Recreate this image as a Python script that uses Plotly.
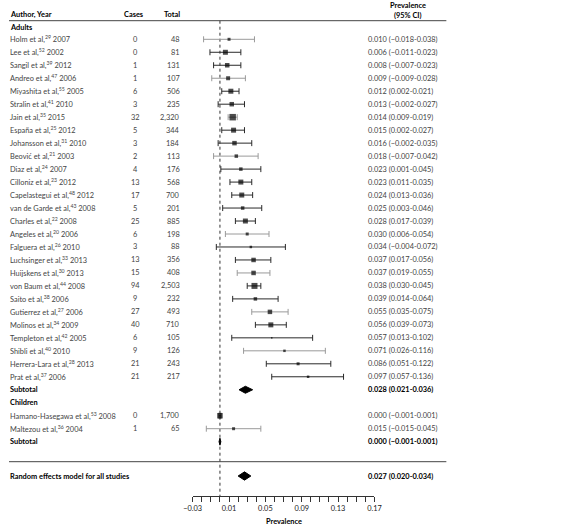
import plotly.graph_objects as go

# ---------------- data ----------------
adult_authors = [
    "Holm et al,<sup>29</sup> 2007", "Lee et al,<sup>52</sup> 2002", "Sangil et al,<sup>39</sup> 2012",
    "Andreo et al,<sup>47</sup> 2006", "Miyashita et al,<sup>55</sup> 2005", "Stralin et al,<sup>41</sup> 2010",
    "Jain et al,<sup>35</sup> 2015", "España et al,<sup>25</sup> 2012", "Johansson et al,<sup>31</sup> 2010",
    "Beović et al,<sup>21</sup> 2003", "Diaz et al,<sup>24</sup> 2007", "Cilloniz et al,<sup>23</sup> 2012",
    "Capelastegui et al,<sup>48</sup> 2012", "van de Garde et al,<sup>43</sup> 2008", "Charles et al,<sup>22</sup> 2008",
    "Angeles et al,<sup>20</sup> 2006", "Falguera et al,<sup>26</sup> 2010", "Luchsinger et al,<sup>33</sup> 2013",
    "Huijskens et al,<sup>30</sup> 2013", "von Baum et al,<sup>44</sup> 2008", "Saito et al,<sup>38</sup> 2006",
    "Gutierrez et al,<sup>27</sup> 2006", "Molinos et al,<sup>34</sup> 2009", "Templeton et al,<sup>42</sup> 2005",
    "Shibli et al,<sup>40</sup> 2010", "Herrera-Lara et al,<sup>28</sup> 2013", "Prat et al,<sup>37</sup> 2006",
]
adult_cases = [0, 0, 1, 1, 6, 3, 32, 5, 3, 2, 4, 13, 17, 5, 25, 6, 3, 13, 15, 94, 9, 27, 40, 6, 9, 21, 21]
adult_totals = [48, 81, 131, 107, 506, 235, 2320, 344, 184, 113, 176, 568, 700, 201, 885, 198, 88,
                356, 408, 2503, 232, 493, 710, 105, 126, 243, 217]
adult_prev = [0.010, 0.006, 0.008, 0.009, 0.012, 0.013, 0.014, 0.015, 0.016, 0.018, 0.023, 0.023, 0.024,
              0.025, 0.028, 0.030, 0.034, 0.037, 0.037, 0.038, 0.039, 0.055, 0.056, 0.057, 0.071, 0.086, 0.097]
adult_low = [-0.018, -0.011, -0.007, -0.009, 0.002, -0.002, 0.009, 0.002, -0.002, -0.007, 0.001, 0.011, 0.013,
             0.003, 0.017, 0.006, -0.004, 0.017, 0.019, 0.030, 0.014, 0.035, 0.039, 0.013, 0.026, 0.051, 0.057]
adult_high = [0.038, 0.023, 0.023, 0.028, 0.021, 0.027, 0.019, 0.027, 0.035, 0.042, 0.045, 0.035, 0.036,
              0.046, 0.039, 0.054, 0.072, 0.056, 0.055, 0.045, 0.064, 0.075, 0.073, 0.102, 0.116, 0.122, 0.136]

child_authors = ["Hamano-Hasegawa et al,<sup>53</sup> 2008", "Maltezou et al,<sup>36</sup> 2004"]
child_cases = [0, 1]
child_totals = [1700, 65]
child_prev = [0.000, 0.015]
child_low = [-0.001, -0.015]
child_high = [0.001, 0.045]

subtotal_adult = (0.028, 0.021, 0.036)
subtotal_child = (0.000, -0.001, 0.001)
random_all = (0.027, 0.020, 0.034)

tick_values = [-0.03, -0.02, -0.01, 0.00, 0.01, 0.02, 0.03, 0.04, 0.05, 0.06, 0.07, 0.08, 0.09,
               0.10, 0.11, 0.12, 0.13, 0.14, 0.15, 0.16, 0.17]
tick_labels = ["−0.03", "", "", "", "0.01", "", "", "", "0.05", "", "", "", "0.09",
               "", "", "", "0.13", "", "", "", "0.17"]

# ---------------- style ----------------
adult_marker_px = [3, 5, 4.5, 4, 5, 4.5, 6.5, 5, 4.5, 3.5, 3.5, 5, 5, 3.5, 5, 3, 2.5,
                   4.5, 4.5, 6, 3.5, 4.5, 5, 1.5, 2.5, 3, 2.5]
child_marker_px = [5.5, 3]
adult_ci_gray = [1, 0, 0, 1, 0, 0, 1, 0, 0, 1, 0, 0, 0, 0, 0, 1, 0, 0, 1, 0, 0, 1, 0, 0, 1, 0, 0]
child_ci_gray = [0, 1]

FONT = "Lato"
FS = 7.4
TXT = "#444444"
W, H = 569, 525
ROW_PX = 12.98
ROW1_PX = 39.3
AXIS_PX = 496
r_top = 1 - ROW1_PX / ROW_PX
def r_of(px):
    return r_top + px / ROW_PX
r_bottom = r_of(AXIS_PX)

def fmt(v):
    s = f"{abs(v):.3f}"
    return ("−" + s) if v < 0 else s

def ci_text(p, lo, hi):
    return f"{fmt(p)} ({fmt(lo)}-{fmt(hi)})"

adult_rows = list(range(1, len(adult_authors) + 1))
r_sub_adult = len(adult_authors) + 1
r_children = r_sub_adult + 1
child_rows = [r_children + 1 + i for i in range(len(child_authors))]
r_sub_child = child_rows[-1] + 1
r_rule = r_of(461.7)
r_random = r_of(476)

fig = go.Figure()

all_rows = adult_rows + child_rows
all_prev = adult_prev + child_prev
all_low = adult_low + child_low
all_high = adult_high + child_high
all_px = adult_marker_px + child_marker_px
all_gray = adult_ci_gray + child_ci_gray

for gflag, col in [(1, "#9a9a9a"), (0, "#2a2a2a")]:
    idx = [i for i in range(len(all_rows)) if all_gray[i] == gflag]
    fig.add_trace(go.Scatter(
        x=[all_prev[i] for i in idx], y=[all_rows[i] for i in idx], mode="markers",
        marker=dict(symbol="square", size=[all_px[i] for i in idx], color="black", line=dict(width=0)),
        error_x=dict(type="data", symmetric=False,
                     array=[all_high[i] - all_prev[i] for i in idx],
                     arrayminus=[all_prev[i] - all_low[i] for i in idx],
                     color=col, thickness=1, width=3),
        hoverinfo="skip", cliponaxis=False,
    ))

def diamond(est, row, half):
    p, lo, hi = est
    fig.add_trace(go.Scatter(
        x=[lo, p, hi, p, lo], y=[row, row - half, row, row + half, row],
        mode="lines", fill="toself", fillcolor="black", line=dict(color="black", width=1),
        hoverinfo="skip",
    ))

diamond(subtotal_adult, r_sub_adult, 0.27)
diamond(subtotal_child, r_sub_child, 0.27)
diamond(random_all, r_random, 0.32)

ann = []
def T(text, xpx, row, anchor="left", bold=False, color=TXT):
    ann.append(dict(text=f"<b>{text}</b>" if bold else text, x=xpx / W, xref="paper",
                    y=row, yref="y", xanchor=anchor, yanchor="middle", showarrow=False,
                    borderpad=0, borderwidth=0,
                    font=dict(family=FONT, size=FS, color="black" if bold else color)))

X_AUTH, X_CASES, X_TOTAL, X_CI = 1, 129, 176, 369

T("Author, Year", X_AUTH, r_of(14), bold=True)
T("Cases", X_CASES, r_of(14), anchor="center", bold=True)
T("Total", X_TOTAL, r_of(14), anchor="right", bold=True)
T("Prevalence", 411, r_of(5), anchor="center", bold=True)
T("(95% CI)", 411, r_of(15), anchor="center", bold=True)
T("Adults", X_AUTH, r_of(27.5), bold=True)

for a, c, t, p, lo, hi, r in zip(adult_authors, adult_cases, adult_totals, adult_prev, adult_low, adult_high, adult_rows):
    T(a, X_AUTH, r)
    T(str(c), X_CASES + 1, r, anchor="center")
    T(f"{t:,}", X_TOTAL, r, anchor="right")
    T(ci_text(p, lo, hi), X_CI, r)
T("Subtotal", X_AUTH, r_sub_adult, bold=True)
T(ci_text(*subtotal_adult), X_CI, r_sub_adult, bold=True)

T("Children", X_AUTH, r_children, bold=True)
for a, c, t, p, lo, hi, r in zip(child_authors, child_cases, child_totals, child_prev, child_low, child_high, child_rows):
    T(a, X_AUTH, r)
    T(str(c), X_CASES + 1, r, anchor="center")
    T(f"{t:,}", X_TOTAL, r, anchor="right")
    T(ci_text(p, lo, hi), X_CI, r)
T("Subtotal", X_AUTH, r_sub_child, bold=True)
T(ci_text(*subtotal_child), X_CI, r_sub_child, bold=True)

T("Random effects model for all studies", X_AUTH, r_random, bold=True)
T(ci_text(*random_all), X_CI, r_random, bold=True)

ann.append(dict(text="<b>Prevalence</b>", x=282.5 / W, xref="paper",
                y=(AXIS_PX - 521) / AXIS_PX, yref="paper", xanchor="center", yanchor="middle",
                showarrow=False, borderpad=0, borderwidth=0,
                font=dict(family=FONT, size=FS, color="black")))

shapes = [
    dict(type="line", xref="paper", yref="y", x0=0, x1=450 / W, y0=r_of(20.7), y1=r_of(20.7),
         line=dict(color="#444444", width=1)),
    dict(type="line", xref="paper", yref="y", x0=0, x1=450 / W, y0=r_rule, y1=r_rule,
         line=dict(color="#444444", width=1)),
    dict(type="line", xref="x", yref="y", x0=0, x1=0, y0=r_of(20.7), y1=r_bottom,
         line=dict(color="#333333", width=1, dash="dot"), layer="below"),
]

fig.update_layout(
    width=W, height=H, margin=dict(l=0, r=0, t=0, b=H - AXIS_PX),
    paper_bgcolor="white", plot_bgcolor="white", showlegend=False,
    annotations=ann, shapes=shapes,
    font=dict(family=FONT, size=FS, color=TXT),
    xaxis=dict(domain=[189 / W, 376 / W], range=[-0.03, 0.17], showline=True, linecolor="#333333",
               linewidth=1, ticks="outside", ticklen=5, tickwidth=1, tickcolor="#333333",
               tickvals=tick_values, ticktext=tick_labels, tickfont=dict(family=FONT, size=FS, color="#222"),
               showgrid=False, zeroline=False, fixedrange=True),
    yaxis=dict(range=[r_bottom, r_top], visible=False, showgrid=False, zeroline=False, fixedrange=True),
)

fig.write_html(
    "out.html",
    config={"displayModeBar": False, "staticPlot": True},
    post_script="document.body.style.margin='0px';document.body.style.overflow='hidden';"
                "document.documentElement.style.overflow='hidden';",
)
